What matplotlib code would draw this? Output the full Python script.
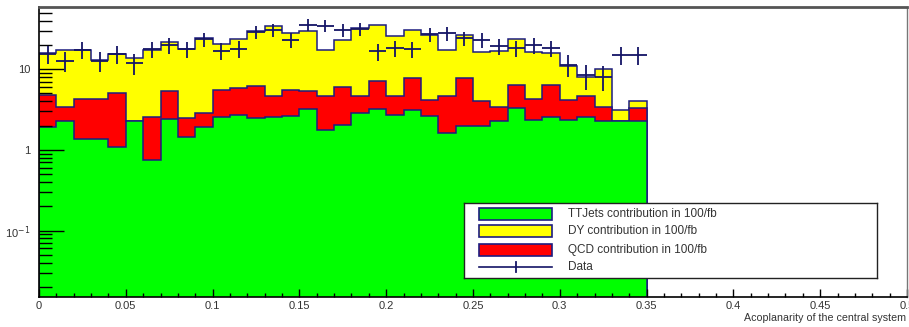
import numpy as np
import matplotlib as mpl
from matplotlib import pyplot as plt
from matplotlib.patches import Rectangle
from matplotlib.ticker import FixedLocator, LogLocator, NullFormatter

mpl.rcParams.update({
    "font.family": ["Liberation Sans", "DejaVu Sans"],
    "text.usetex": False,
})

# 35 bins of 0.01 in acoplanarity
bin_edges = np.round(np.arange(36) * 0.01, 2)

# per-bin contributions (events in 100/fb)
ttjets = [1.90, 2.25, 1.38, 1.38, 1.10, 2.26, 0.75, 2.44, 1.46, 1.90,
          2.59, 2.72, 2.48, 2.59, 2.64, 3.20, 1.74, 2.04, 2.86, 3.20,
          2.72, 3.14, 2.64, 1.64, 1.95, 1.95, 2.25, 3.30, 2.36, 2.59,
          2.36, 2.55, 2.31, 2.25, 2.25]
qcd = [2.92, 1.14, 2.88, 2.88, 3.96, 0.00, 1.80, 2.86, 1.02, 0.93,
       2.97, 3.12, 3.76, 2.10, 2.82, 2.10, 2.95, 3.97, 1.83, 3.86,
       1.97, 4.64, 1.53, 3.05, 5.83, 2.03, 1.14, 3.11, 1.90, 3.82,
       1.81, 2.04, 1.08, 0.00, 1.05]
dy = [11.0, 14.1, 13.2, 8.6, 10.5, 11.5, 14.6, 16.2, 15.5, 21.6,
      14.8, 17.7, 23.3, 29.7, 22.9, 24.7, 12.8, 16.8, 27.3, 28.6,
      21.4, 22.8, 22.2, 12.8, 19.0, 12.3, 13.2, 17.3, 12.3, 9.4,
      6.8, 3.5, 6.6, 0.83, 0.68]

data = [15.5, 12.7, 17.5, 12.7, 15.6, 11.9, 17.8, 20.1, 17.8, 23.5,
        17.0, 18.0, 29.0, 30.5, 23.0, 35.7, 34.5, 30.9, 31.5, 16.6,
        18.3, 17.8, 27.0, 27.8, 24.4, 23.2, 19.2, 18.3, 20.1, 18.3,
        11.4, 8.5, 8.1, 15.1, 15.1]
data_err = [3.9, 3.6, 4.2, 3.6, 3.9, 3.4, 4.2, 4.5, 4.2, 4.8,
            4.1, 4.2, 5.4, 5.5, 4.8, 6.0, 5.9, 5.6, 5.6, 4.1,
            4.3, 4.2, 5.2, 5.3, 4.9, 4.8, 4.4, 4.3, 4.5, 4.3,
            3.4, 2.9, 2.8, 3.9, 3.9]

labels = ["TTJets contribution in 100/fb", "DY contribution in 100/fb",
          "QCD contribution in 100/fb", "Data"]

GREEN, YELLOW, RED = "#00ff00", "#ffff00", "#ff0000"
LINE = "#1c1c80"
DATA_C = "#141466"
TXT = "#333333"

y_lo, y_hi = 0.015, 59.0

fig = plt.figure(figsize=(9.09, 3.27), dpi=100)
W, H = 909, 327
ax = fig.add_axes([39 / W, 1 - 297 / H, 868 / W, 290 / H])
ax.set_yscale("log")

# stacked histogram: TTJets at bottom, then QCD, then DY on top
s_green = np.array(ttjets)
s_red = s_green + np.array(qcd)
s_total = s_red + np.array(dy)

for vals, col in [(s_total, YELLOW), (s_red, RED), (s_green, GREEN)]:
    ax.stairs(vals, bin_edges, baseline=1e-4, fill=True, color=col, lw=0)
    ax.stairs(vals, bin_edges, baseline=1e-4, color=LINE, lw=1.1)

centers = 0.5 * (bin_edges[:-1] + bin_edges[1:])
ax.errorbar(centers, data, xerr=0.005, yerr=data_err, fmt="none",
            ecolor=DATA_C, elinewidth=1.3, capsize=0)

ax.set_xlim(0, 0.5)
ax.set_ylim(y_lo, y_hi)

# ROOT-style ticks
ax.xaxis.set_major_locator(FixedLocator(np.round(np.arange(0, 0.51, 0.05), 2)))
ax.xaxis.set_minor_locator(FixedLocator(np.round(np.arange(0, 0.501, 0.01), 2)))
ax.set_xticklabels(["0", "0.05", "0.1", "0.15", "0.2", "0.25", "0.3",
                    "0.35", "0.4", "0.45", "0.5"])
ax.yaxis.set_major_locator(FixedLocator([0.1, 1, 10]))
ax.set_yticklabels(["10$^{-1}$", "1", "10"])
ax.yaxis.set_minor_locator(LogLocator(base=10, subs=np.arange(2, 10)))
ax.yaxis.set_minor_formatter(NullFormatter())

ax.tick_params(axis="x", which="major", direction="in", length=6, width=1,
               pad=3, labelsize=8, labelcolor=TXT, top=False)
ax.tick_params(axis="x", which="minor", direction="in", length=3, width=1,
               top=False)
ax.tick_params(axis="y", which="major", direction="in", length=18, width=1,
               pad=6, labelsize=8, labelcolor=TXT, right=False)
ax.tick_params(axis="y", which="minor", direction="in", length=9, width=1,
               right=False)

for side in ["left", "bottom"]:
    ax.spines[side].set_color("black")
    ax.spines[side].set_linewidth(1.2)
ax.spines["top"].set_color("#555555")
ax.spines["top"].set_linewidth(2)
ax.spines["right"].set_color("#777777")
ax.spines["right"].set_linewidth(1)

fig.text(906 / W, 1 - 318 / H, "Acoplanarity of the central system",
         ha="right", va="center", fontsize=7.7, color=TXT)

# legend box, drawn in its own pixel-scaled axes
lax = fig.add_axes([464 / W, 1 - 278 / H, 413 / W, 75 / H])
lax.set_xlim(0, 413)
lax.set_ylim(75, 0)
lax.set_xticks([])
lax.set_yticks([])
for sp in lax.spines.values():
    sp.set_color("#222222")
    sp.set_linewidth(1)
lax.set_facecolor("white")

rows_y = [11, 28, 46.5, 63.5]
for yc, col in zip(rows_y[:3], [GREEN, YELLOW, RED]):
    lax.add_patch(Rectangle((15, yc - 6), 73, 12, facecolor=col,
                            edgecolor=LINE, lw=1.2))
lax.plot([15, 88], [rows_y[3], rows_y[3]], color=DATA_C, lw=1.2)
lax.plot([52, 52], [rows_y[3] - 5, rows_y[3] + 5], color=DATA_C, lw=1.3)
for yc, lab in zip(rows_y, labels):
    lax.text(104, yc, lab, ha="left", va="center", fontsize=8.5, color=TXT)

fig.savefig("out.png", dpi=100)
